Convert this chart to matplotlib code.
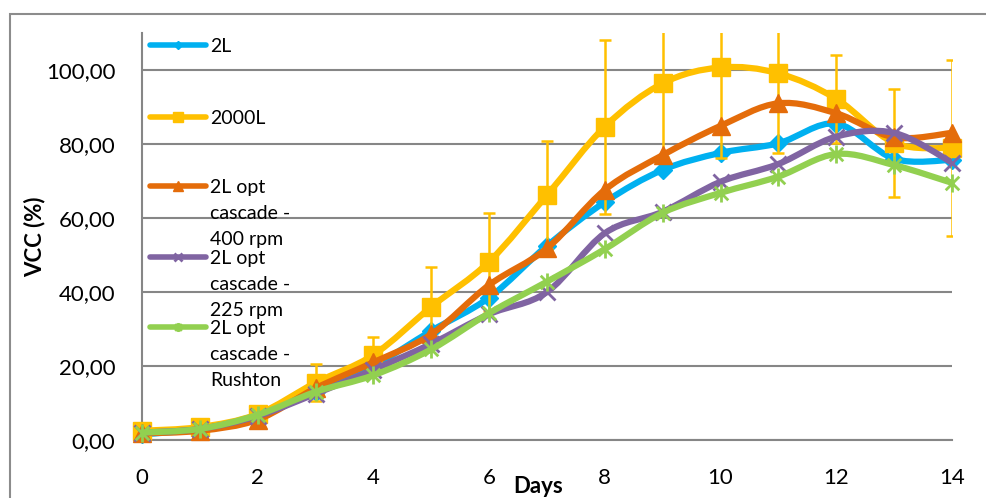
import numpy as np
import matplotlib.pyplot as plt
from matplotlib.path import Path
from matplotlib.patches import PathPatch, Rectangle
from matplotlib.lines import Line2D

plt.rcParams['font.family'] = ['Lato', 'DejaVu Sans']

days = list(range(15))
vcc_2l = [1.5, 3.0, 6.5, 13.0, 20.0, 29.5, 38.5, 52.5, 64.3, 73.0, 77.6, 80.2, 85.5, 76.0, 75.7]
vcc_2000l = [2.5, 3.5, 7.0, 15.5, 23.0, 36.0, 48.2, 66.2, 84.7, 96.4, 100.7, 99.1, 92.2, 80.3, 78.9]
err_2000l = [0.5, 0.5, 1.0, 5.0, 4.8, 10.8, 13.2, 14.5, 23.5, 20.0, 24.5, 21.5, 11.8, 14.6, 23.8]
vcc_400rpm = [1.8, 2.5, 5.5, 14.0, 21.0, 28.6, 41.9, 51.8, 67.6, 77.0, 84.9, 91.0, 88.3, 81.8, 83.0]
vcc_225rpm = [2.0, 3.0, 6.5, 12.5, 19.0, 26.0, 34.0, 40.0, 55.9, 61.7, 69.8, 74.6, 82.0, 83.0, 75.0]
vcc_rushton = [2.0, 3.0, 6.8, 13.0, 17.5, 24.5, 34.3, 42.8, 51.6, 61.4, 66.8, 71.2, 77.3, 74.3, 69.5]

labels = ["2L", "2000L", "2L opt\ncascade -\n400 rpm",
          "2L opt\ncascade -\n225 rpm", "2L opt\ncascade -\nRushton"]
colors = ['#00B0F0', '#FFC000', '#E46C0A', '#8064A2', '#92D050']

# excel-like "star" marker: x with a vertical bar
star = Path([(0, -1), (0, 1), (-0.75, -0.75), (0.75, 0.75), (-0.75, 0.75), (0.75, -0.75)],
            [Path.MOVETO, Path.LINETO] * 3)
markers = [('D', 9, 1), ('s', 13, 1), ('^', 13, 1), ('x', 11, 2), (star, 13, 2)]


def smooth_path(x, y):
    # catmull-rom curve through the points, as cubic bezier segments
    pts = np.column_stack([x, y]).astype(float)
    n = len(pts)
    verts = [pts[0]]
    codes = [Path.MOVETO]
    for i in range(n - 1):
        p0 = pts[max(i - 1, 0)]
        p1 = pts[i]
        p2 = pts[i + 1]
        p3 = pts[min(i + 2, n - 1)]
        verts += [p1 + (p2 - p0) / 6, p2 - (p3 - p1) / 6, p2]
        codes += [Path.CURVE4] * 3
    return Path(verts, codes)


W, H = 987, 498
fig = plt.figure(figsize=(W / 100, H / 100), dpi=100)
ax = fig.add_axes([142 / W, 1 - 440 / H, (952 - 142) / W, (440 - 33) / H])

series = [vcc_2l, vcc_2000l, vcc_400rpm, vcc_225rpm, vcc_rushton]
for i, vals in enumerate(series):
    z = 3 + i * 2
    ax.add_patch(PathPatch(smooth_path(days, vals), fill=False, edgecolor=colors[i],
                           lw=4.5, capstyle='round', joinstyle='round', zorder=z))
    m, ms, mew = markers[i]
    filled = i < 3
    ax.plot(days, vals, linestyle='none', marker=m, ms=ms, mew=mew,
            color=colors[i], mfc=colors[i] if filled else 'none',
            clip_on=False, zorder=z + 0.5)
    if i == 1:
        ax.errorbar(days, vals, yerr=err_2000l, fmt='none', ecolor=colors[1],
                    elinewidth=1.8, capsize=4.5, capthick=1.8, zorder=z + 0.6)

ax.set_xlim(0, 14)
ax.set_ylim(0, 110)
ax.set_xticks(range(0, 15, 2))
ax.set_yticks(range(0, 101, 20))
ax.set_yticklabels([f"{v},00" for v in range(0, 101, 20)])
ax.tick_params(length=0, labelsize=16)
ax.tick_params(axis='x', pad=20)
ax.tick_params(axis='y', pad=19)
ax.yaxis.grid(True, color='#868686', lw=1.5)
ax.set_axisbelow(True)
for s in ['top', 'right']:
    ax.spines[s].set_visible(False)
for s in ['left', 'bottom']:
    ax.spines[s].set_color('#868686')
    ax.spines[s].set_linewidth(1.5)

fig.text(35 / W, 1 - 237 / H, "VCC (%)", rotation=90, fontsize=16, fontweight='bold',
         ha='center', va='center')
fig.text(538 / W, 1 - 486 / H, "Days", fontsize=16, fontweight='bold',
         ha='center', va='center')

# legend drawn by hand (inside plot, first text line next to the handle)
leg_y = [45, 117, 186, 257, 327]
for i, lab in enumerate(labels):
    y = 1 - leg_y[i] / H
    m, ms, mew = markers[i]
    fig.add_artist(Line2D([150 / W, 206 / W], [y, y], color=colors[i], lw=4,
                          solid_capstyle='round', zorder=20))
    fig.add_artist(Line2D([178 / W], [y], color=colors[i], marker=m, ms=ms * 0.5,
                          mew=mew, zorder=21))
    fig.text(210 / W, y + 7 / H, lab, fontsize=14, va='top', ha='left',
             linespacing=1.65, zorder=22)

fig.add_artist(Rectangle((10 / W, -0.1), 1.2, 1 - 14 / H + 0.1, fill=False,
                         edgecolor='#8c8c8c', lw=1.5, transform=fig.transFigure))

fig.savefig('out.png', dpi=100)
